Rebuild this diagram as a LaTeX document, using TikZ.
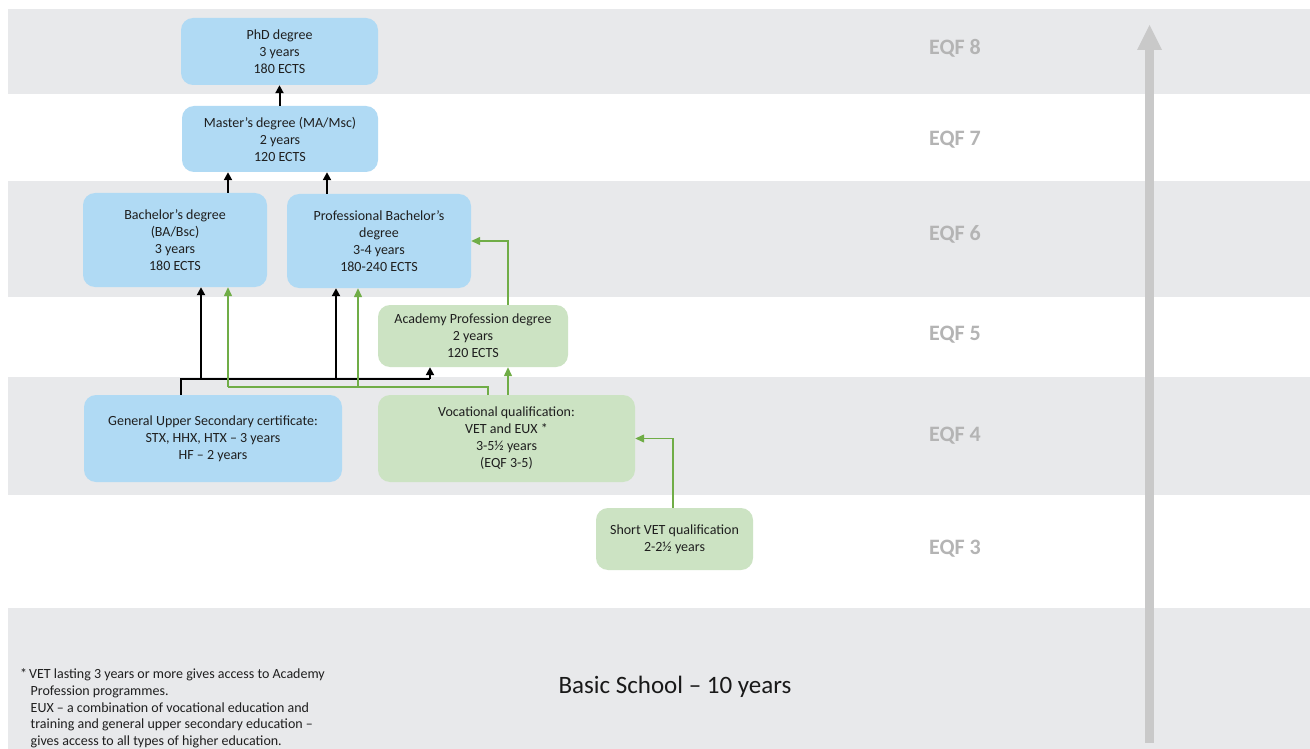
\documentclass[tikz,border=0pt]{standalone}
\usepackage{fontspec}
\setmainfont{Carlito}
\usetikzlibrary{arrows.meta}
\definecolor{bandgray}{HTML}{E8E9EB}
\definecolor{boxblue}{HTML}{B0DAF4}
\definecolor{boxgreen}{HTML}{CCE3C3}
\definecolor{lingreen}{HTML}{70AD47}
\definecolor{eqfgray}{HTML}{B4B4B4}
\definecolor{bigarrow}{HTML}{C9C9C9}
\tikzset{
  band/.style={fill=bandgray, draw=none},
  edubox/.style={rectangle, rounded corners=12pt, draw=none, align=center, inner sep=0pt,
    font=\fontsize{14}{17}\selectfont, text=black!88},
  bluebox/.style={edubox, fill=boxblue},
  greenbox/.style={edubox, fill=boxgreen},
  eqf/.style={font=\fontsize{22}{24}\selectfont\bfseries, text=eqfgray},
  blk/.style={draw=black, line width=2pt, -{Triangle[length=8pt,width=8pt]}},
  blkline/.style={draw=black, line width=2.2pt},
  grn/.style={draw=lingreen, line width=1.3pt, -{Triangle[length=9pt,width=8pt]}},
  grnline/.style={draw=lingreen, line width=1.3pt},
}
\begin{document}
\begin{tikzpicture}[x=1pt, y=-1pt]
\useasboundingbox (0,0) rectangle (1310,749);
\fill[white] (0,0) rectangle (1310,749);
% bands
\fill[band] (8,9) rectangle (1310,94);
\fill[band] (8,181) rectangle (1310,297);
\fill[band] (8,377) rectangle (1310,495);
\fill[band] (8,608) rectangle (1310,749);

% big arrow
\fill[bigarrow] (1145,743) rectangle (1154,50);
\fill[bigarrow] (1137,50) -- (1162,50) -- (1149.5,25) -- cycle;

% EQF labels
\node[eqf] (e8) at (955,48) {EQF 8};
\node[eqf] (e7) at (955,140) {EQF 7};
\node[eqf] (e6) at (955,234) {EQF 6};
\node[eqf] (e5) at (955,335) {EQF 5};
\node[eqf] (e4) at (955,436) {EQF 4};
\node[eqf] (e3) at (955,549) {EQF 3};

% boxes
\node[bluebox, minimum width=197pt, minimum height=67pt] (phd) at (279.5,51.5) {PhD degree\\3 years\\180 ECTS};
\node[bluebox, minimum width=196pt, minimum height=66pt] (master) at (280,139) {Master’s degree (MA/Msc)\\2 years\\120 ECTS};
\node[bluebox, minimum width=184pt, minimum height=94pt] (bach) at (175,240) {Bachelor’s degree\\(BA/Bsc)\\3 years\\180 ECTS};
\node[bluebox, minimum width=184pt, minimum height=94pt] (prof) at (379,241) {Professional Bachelor’s\\degree\\3-4 years\\180-240 ECTS};
\node[greenbox, minimum width=190pt, minimum height=62pt] (aca) at (473,336) {Academy Profession degree\\2 years\\120 ECTS};
\node[bluebox, minimum width=258pt, minimum height=87pt] (gen) at (213,438.5) {General Upper Secondary certificate:\\STX, HHX, HTX – 3 years\\HF – 2 years};
\node[greenbox, minimum width=257pt, minimum height=87pt] (voc) at (506.5,438.5) {Vocational qualification:\\VET and EUX *\\3-5½ years\\(EQF 3-5)};
\node[greenbox, minimum width=157pt, minimum height=62pt] (short) at (674.5,539) {Short VET qualification\\2-2½ years};

% basic school and footnote
\node[font=\fontsize{25}{28}\selectfont, text=black!90] (basic) at (675,687) {Basic School – 10 years};
\node[anchor=north west, align=left, inner sep=0pt, font=\fontsize{14}{16.7}\selectfont, text=black!88] (foot) at (20,668.5)
 {*\hspace{2pt}VET lasting 3 years or more gives access to Academy\\
  \hspace*{10.5pt}Profession programmes.\\
  \hspace*{10.5pt}EUX – a combination of vocational education and\\
  \hspace*{10.5pt}training and general upper secondary education –\\
  \hspace*{10.5pt}gives access to all types of higher education.};

% helper coordinates
\coordinate (xa) at (228,0);
\coordinate (xb) at (327,0);
\coordinate (xg) at (181,0);
\coordinate (xc) at (201,0);
\coordinate (xd) at (336,0);
\coordinate (xe) at (430,0);
\coordinate (xh) at (358,0);
\coordinate (xi) at (488,0);
\coordinate (xj) at (508,0);
\coordinate (xk) at (673,0);
\coordinate (yj) at (0,379);
\coordinate (yg) at (0,387);

% black connectors
\draw[blk] (master.north -| phd.south) -- (phd.south);
\draw[blk] (bach.north -| xa) -- (master.south -| xa);
\draw[blk] (prof.north -| xb) -- (master.south -| xb);
\draw[blkline] (gen.north -| xg) -- (xg |- yj) -- (xe |- yj);
\draw[blk] (xe |- yj) -- (aca.south -| xe);
\draw[blk] (xc |- yj) -- (bach.south -| xc);
\draw[blk] (xd |- yj) -- (prof.south -| xd);

% green connectors
\draw[grnline] (voc.north -| xi) -- (xi |- yg) -- (xa |- yg);
\draw[grn] (xa |- yg) -- (bach.south -| xa);
\draw[grn] (xh |- yg) -- (prof.south -| xh);
\draw[grn] (voc.north -| xj) -- (aca.south -| xj);
\draw[grn] (aca.north -| xj) |- (prof.east);
\draw[grn] (short.north -| xk) |- (voc.east);
\end{tikzpicture}
\end{document}
